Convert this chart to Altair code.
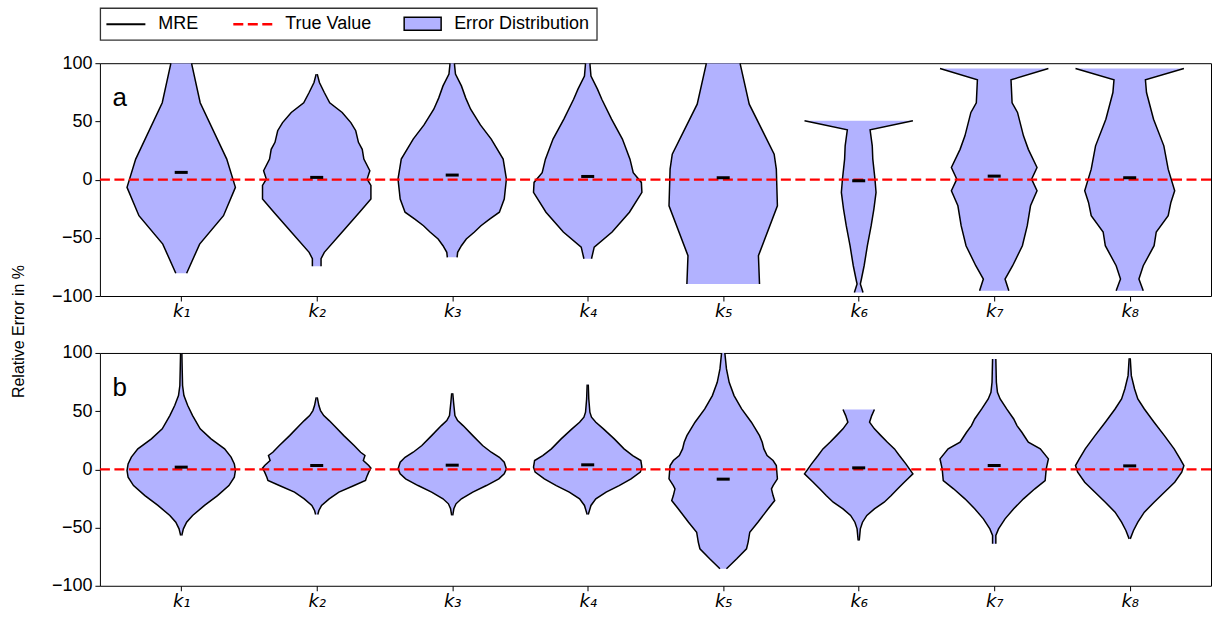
import json
import altair as alt
import pandas as pd

# ---------------- data ----------------
CATEGORIES = ["k1", "k2", "k3", "k4", "k5", "k6", "k7", "k8"]
X_LABELS = ["k₁", "k₂", "k₃", "k₄", "k₅", "k₆", "k₇", "k₈"]
Y_TICKS = [-100, -50, 0, 50, 100]
LEGEND_LABELS = ["MRE", "True Value", "Error Distribution"]
Y_TITLE = "Relative Error in %"

# mean relative error per parameter
MRE_A = [6.2, 1.9, 3.9, 2.7, 1.6, -1.0, 3.0, 1.6]
MRE_B = [1.9, 3.3, 3.6, 3.9, -8.4, 1.3, 3.3, 3.0]
TRUE_VALUE = 0

# violin outlines: error level (y) and relative density (w, 1 = widest)
a1_y = [-80.5, -55.4, -31, -6.7, 17.6, 66, 100]
a1_w = [0.10, 0.34, 0.78, 1.0, 0.84, 0.35, 0.19]
a2_y = [-74.5, -68, -62.5, -45, -28, -16.7, -5, 0.4, 7.6, 17.6, 26, 32, 42, 49, 57.7, 66, 74.8, 83.4, 90.6]
a2_w = [0.08, 0.08, 0.14, 0.47, 0.79, 1.0, 1.0, 0.93, 0.98, 0.87, 0.84, 0.77, 0.72, 0.63, 0.47, 0.24, 0.14, 0.05, 0.01]
a3_y = [-66.8, -62.5, -56.8, -51, -45, -39.6, -33.9, -28, -16.7, 0.4, 17.6, 34.8, 47, 60.5, 70, 80.5, 90.6, 100]
a3_w = [0.09, 0.10, 0.17, 0.26, 0.41, 0.53, 0.69, 0.87, 0.96, 1.0, 0.94, 0.72, 0.52, 0.34, 0.25, 0.17, 0.06, 0.04]
a4_y = [-68, -58, -45, -28, -11, -2.4, 6, 17.6, 34.8, 52, 69, 77.7, 89, 100]
a4_w = [0.07, 0.12, 0.45, 0.77, 1.0, 0.99, 0.84, 0.78, 0.64, 0.44, 0.26, 0.18, 0.06, 0.04]
a5_y = [-89.7, -65.4, -22.5, 9, 21.9, 64.8, 100]
a5_w = [0.67, 0.65, 1.0, 0.98, 0.94, 0.48, 0.31]
a6_y = [-96.9, -89.7, -85.4, -74, -56.8, -39.6, -25.3, -11, 0.4, 17.6, 29, 42.8, 50.5]
a6_w = [0.08, 0.03, 0.05, 0.10, 0.16, 0.23, 0.28, 0.32, 0.30, 0.26, 0.25, 0.21, 1.0]
a7_y = [-95.4, -85.4, -74, -56.8, -39.6, -22.5, -9.6, 0.4, 10.4, 26, 37.6, 57.7, 66, 85.7, 95.4]
a7_w = [0.27, 0.20, 0.34, 0.52, 0.61, 0.67, 0.79, 0.69, 0.79, 0.63, 0.54, 0.43, 0.33, 0.31, 1.0]
a8_y = [-95.4, -85.4, -74, -56.8, -45, -31, -19.6, -9.6, 9, 29, 51.9, 74.8, 85.7, 95.4]
a8_w = [0.25, 0.17, 0.25, 0.45, 0.49, 0.71, 0.76, 0.83, 0.71, 0.63, 0.44, 0.31, 0.29, 1.0]

b1_y = [-56.8, -51.1, -45.4, -39.6, -31, -22.5, -13.9, -6.7, -1, 4.7, 10.5, 17.6, 26.2, 34.8, 46.2, 54.8, 63.4, 72, 86.3, 100]
b1_w = [0.01, 0.04, 0.10, 0.21, 0.43, 0.67, 0.88, 0.98, 1.0, 0.98, 0.92, 0.80, 0.55, 0.35, 0.21, 0.12, 0.05, 0.025, 0.018, 0.012]
b2_y = [-38.8, -35.3, -31.0, -25.3, -19.6, -13.9, -9.6, -6.7, -2.4, 1.0, 3.3, 7.6, 11.9, 14.7, 20.5, 29.0, 37.6, 41.9, 46.2, 50.5, 54.8, 61.9]
b2_w = [0.02, 0.04, 0.09, 0.23, 0.41, 0.69, 0.90, 0.92, 0.96, 1.0, 0.96, 0.86, 0.89, 0.81, 0.69, 0.50, 0.32, 0.23, 0.13, 0.07, 0.04, 0.01]
b3_y = [-39.6, -33.9, -29.6, -25.3, -19.6, -13.9, -8.2, -3.9, 0.4, 6.2, 10.4, 14.7, 20.5, 29.0, 37.6, 41.9, 46.2, 57.7, 65.4]
b3_w = [0.01, 0.03, 0.07, 0.17, 0.38, 0.63, 0.86, 0.96, 1.0, 0.96, 0.87, 0.72, 0.56, 0.38, 0.20, 0.10, 0.05, 0.025, 0.01]
b4_y = [-38.8, -31.0, -25.3, -19.6, -13.9, -8.2, -2.4, 1.9, 7.6, 11.9, 17.6, 26.2, 34.8, 40.5, 44.8, 49.1, 60.5, 72.8]
b4_w = [0.01, 0.06, 0.15, 0.34, 0.58, 0.80, 0.97, 1.0, 0.98, 0.83, 0.67, 0.49, 0.29, 0.15, 0.07, 0.04, 0.02, 0.01]
b5_y = [-85.4, -76.8, -68.2, -62.5, -54.0, -45.4, -33.9, -26.8, -22.5, -16.7, -13.9, -8.2, 3.3, 7.6, 11.9, 17.6, 23.3, 29.0, 40.5, 51.9, 63.4, 74.8, 86.3, 100]
b5_w = [0.06, 0.25, 0.43, 0.46, 0.49, 0.64, 0.83, 0.95, 0.92, 0.89, 0.92, 1.0, 0.98, 0.92, 0.81, 0.75, 0.72, 0.67, 0.52, 0.34, 0.20, 0.11, 0.06, 0.03]
b6_y = [-61.1, -51.1, -45.4, -39.6, -33.9, -28.2, -22.5, -16.7, -11.0, -3.9, 4.7, 11.9, 17.6, 23.3, 29.0, 34.8, 40.5, 46.2, 51.4]
b6_w = [0.01, 0.03, 0.07, 0.15, 0.29, 0.47, 0.60, 0.72, 0.84, 1.0, 0.87, 0.75, 0.66, 0.53, 0.41, 0.29, 0.20, 0.24, 0.29]
b7_y = [-64.0, -56.8, -51.1, -42.5, -33.9, -25.3, -16.7, -9.6, 0.4, 9.0, 17.6, 23.3, 27.6, 31.9, 37.6, 43.3, 51.9, 60.5, 66.2, 74.8, 94.8]
b7_w = [0.03, 0.03, 0.08, 0.20, 0.36, 0.54, 0.75, 0.94, 0.96, 1.0, 0.85, 0.63, 0.57, 0.51, 0.42, 0.36, 0.23, 0.11, 0.06, 0.04, 0.03]
b8_y = [-59.7, -52.5, -45.4, -36.8, -28.2, -19.6, -11.0, -2.4, 3.3, 9.0, 17.6, 29.0, 40.5, 51.9, 60.5, 69.1, 80.5, 95.4]
b8_w = [0.01, 0.07, 0.15, 0.27, 0.45, 0.64, 0.83, 0.96, 1.0, 0.93, 0.82, 0.64, 0.45, 0.27, 0.15, 0.09, 0.03, 0.01]

A_Y = [a1_y, a2_y, a3_y, a4_y, a5_y, a6_y, a7_y, a8_y]
A_W = [a1_w, a2_w, a3_w, a4_w, a5_w, a6_w, a7_w, a8_w]
B_Y = [b1_y, b2_y, b3_y, b4_y, b5_y, b6_y, b7_y, b8_y]
B_W = [b1_w, b2_w, b3_w, b4_w, b5_w, b6_w, b7_w, b8_w]

# ---------------- styling ----------------
HALF = 0.4          # violin half width in category units (widths=0.8)
MRE_HALF = 0.048    # half length of MRE marker
FILL = "#b2b2ff"
FONT = "Liberation Sans"
DASH = [10, 4.5]
W, H = 1112, 233

xscale = alt.Scale(domain=[0.4, 8.6], nice=False, zero=False)
yscale = alt.Scale(domain=[-100, 100], nice=False, zero=False)

x_axis = alt.Axis(
    values=list(range(1, 9)),
    labelExpr=json.dumps(X_LABELS, ensure_ascii=False) + "[datum.value - 1]",
    labelFont="DejaVu Sans", labelFontStyle="italic", labelFontSize=18,
    labelColor="black", labelPadding=2, tickSize=5, tickColor="black",
    tickWidth=1, domain=False, grid=False, title=None,
)


def y_axis(with_title):
    kw = dict(
        values=Y_TICKS, format="d", labelFont=FONT, labelFontSize=18,
        labelColor="black", labelPadding=3, tickSize=5, tickColor="black",
        tickWidth=1, domain=False, grid=False,
    )
    if with_title:
        kw.update(
            title=Y_TITLE, titleFont=FONT, titleFontSize=16, titleFontWeight="normal",
            titleColor="black", titleAngle=270, titleX=-81.5, titleY=268,
            titleAlign="center", titleBaseline="middle",
        )
    else:
        kw.update(title=None)
    return alt.Axis(**kw)


def violin_frame(ys, ws):
    rows = []
    for i, (yy, ww) in enumerate(zip(ys, ws)):
        pos = i + 1
        for y, w in zip(yy, ww):
            rows.append({"vid": CATEGORIES[i], "pos": pos, "y": y,
                         "lo": pos - HALF * w, "hi": pos + HALF * w})
    return pd.DataFrame(rows)


def mre_frame(vals):
    return pd.DataFrame({
        "cat": CATEGORIES,
        "mre": vals,
        "lo": [i + 1 - MRE_HALF for i in range(len(vals))],
        "hi": [i + 1 + MRE_HALF for i in range(len(vals))],
    })


def panel(ys, ws, mre, letter, first):
    vdf = violin_frame(ys, ws)
    ya = y_axis(first)
    area = alt.Chart(vdf).mark_area(orient="horizontal", fill=FILL, opacity=1, clip=True).encode(
        y=alt.Y("y:Q", scale=yscale, axis=ya),
        x=alt.X("lo:Q", scale=xscale, axis=x_axis, stack=None),
        x2="hi:Q",
        detail="vid:N",
    )
    left = alt.Chart(vdf).mark_line(color="black", strokeWidth=1.5, clip=True).encode(
        y=alt.Y("y:Q", scale=yscale, axis=ya),
        x=alt.X("lo:Q", scale=xscale, axis=x_axis),
        detail="vid:N",
        order=alt.Order("y:Q"),
    )
    right = alt.Chart(vdf).mark_line(color="black", strokeWidth=1.5, clip=True).encode(
        y=alt.Y("y:Q", scale=yscale, axis=ya),
        x=alt.X("hi:Q", scale=xscale, axis=x_axis),
        detail="vid:N",
        order=alt.Order("y:Q"),
    )
    truth = alt.Chart(pd.DataFrame({"t": [TRUE_VALUE]})).mark_rule(
        color="red", strokeWidth=2.3, strokeDash=DASH
    ).encode(y=alt.Y("t:Q", scale=yscale, axis=ya))
    mdf = mre_frame(mre)
    mre_marks = alt.Chart(mdf).mark_rule(color="black", strokeWidth=3).encode(
        y=alt.Y("mre:Q", scale=yscale, axis=ya),
        x=alt.X("lo:Q", scale=xscale, axis=x_axis),
        x2="hi:Q",
    )
    one = pd.DataFrame({"n": [0]})
    tag = alt.Chart(one).mark_text(
        text=letter, font=FONT, fontSize=26, align="center", baseline="alphabetic", color="black"
    ).encode(x=alt.value(19.8), y=alt.value(42.7))
    layers = [area, left, right, truth, mre_marks, tag]

    if first:
        ly = -39
        box = alt.Chart(one).mark_rect(fill="white", stroke="#333333", strokeWidth=1.3).encode(
            x=alt.value(0.5), x2=alt.value(497.5), y=alt.value(-55), y2=alt.value(-23))
        s_mre = alt.Chart(one).mark_rule(color="black", strokeWidth=2).encode(
            x=alt.value(6.5), x2=alt.value(45.5), y=alt.value(ly))
        s_true = alt.Chart(one).mark_rule(color="red", strokeWidth=2.3, strokeDash=DASH).encode(
            x=alt.value(133.5), x2=alt.value(172.5), y=alt.value(ly))
        s_err = alt.Chart(one).mark_rect(fill=FILL, stroke="black", strokeWidth=1.5).encode(
            x=alt.value(304.5), x2=alt.value(341.5), y=alt.value(-46), y2=alt.value(-33))
        texts = []
        for lab, xx in zip(LEGEND_LABELS, [58.5, 185.5, 354.5]):
            texts.append(alt.Chart(one).mark_text(
                text=lab, font=FONT, fontSize=18, align="left", baseline="middle", color="black"
            ).encode(x=alt.value(xx), y=alt.value(ly)))
        layers += [box, s_mre, s_true, s_err] + texts

    return alt.layer(*layers).properties(width=W, height=H)


chart = alt.vconcat(
    panel(A_Y, A_W, MRE_A, "a", True),
    panel(B_Y, B_W, MRE_B, "b", False),
    spacing=57,
    bounds="flush",
).properties(
    padding={"left": 10, "top": 6, "right": 0, "bottom": 0},
    background="white",
).configure_view(
    stroke="black", strokeWidth=1
)

chart.save("out.html", embed_options={"renderer": "svg", "actions": False})
